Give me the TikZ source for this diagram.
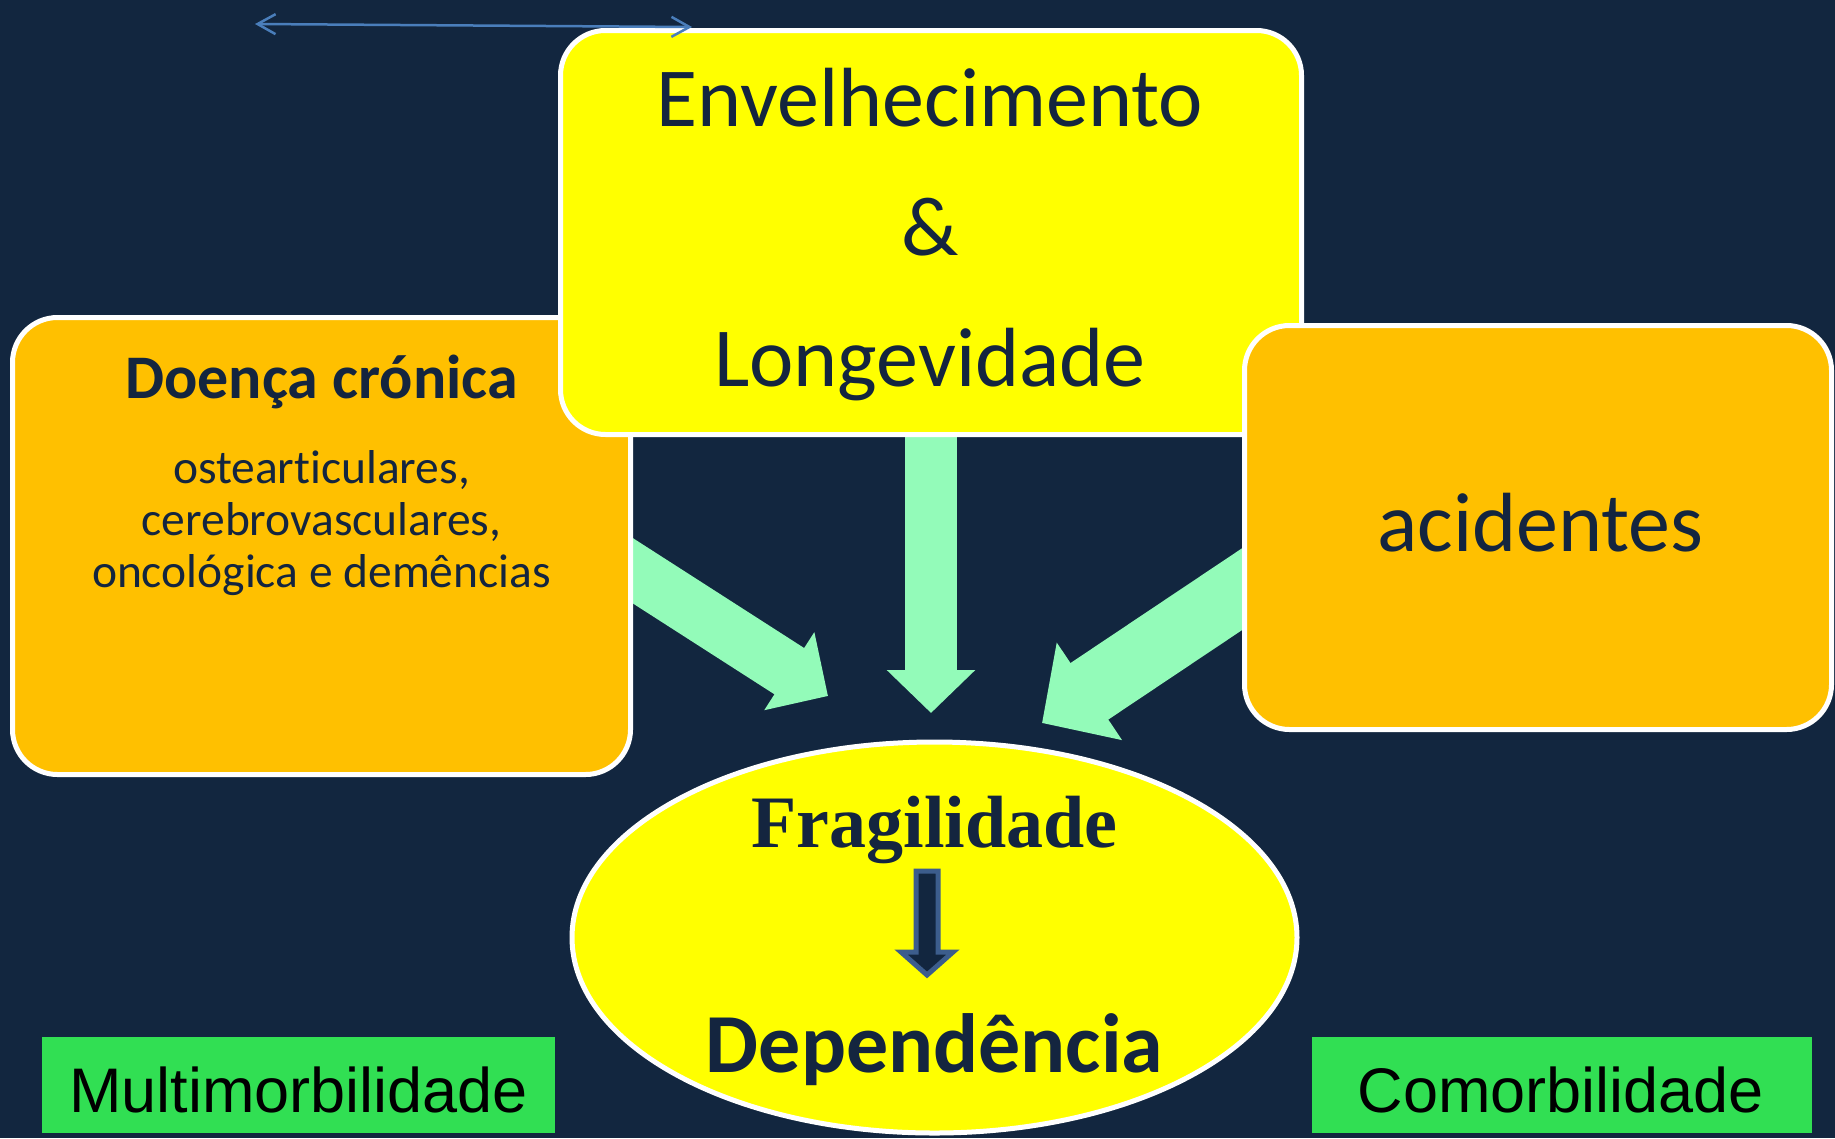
\documentclass[tikz,border=0pt]{standalone}
\usepackage{fontspec}
\setmainfont[Ligatures=NoCommon]{Carlito}
\newfontfamily\serifa{Liberation Serif}
\newfontfamily\arialf{Liberation Sans}
\usetikzlibrary{arrows.meta,shapes.geometric}
\definecolor{fundo}{HTML}{12263F}
\definecolor{tinta}{HTML}{14253F}
\definecolor{laranja}{HTML}{FFC000}
\definecolor{amarelo}{HTML}{FFFF00}
\definecolor{menta}{HTML}{93FBB9}
\definecolor{relva}{HTML}{31DF53}
\definecolor{azulseta}{HTML}{4A7EBB}
\definecolor{bordaseta}{HTML}{3C5D8C}
\pgfdeclarelayer{background}
\pgfsetlayers{background,main}
\tikzstyle{caixa} = [rectangle, rounded corners=45pt, draw=white, line width=5pt, inner sep=0pt]
\tikzstyle{texto} = [anchor=base, inner sep=0pt, text=tinta]
\tikzstyle{etiqueta} = [rectangle, fill=relva, inner sep=0pt, minimum height=96pt]
\tikzstyle{seta} = [draw=menta, line width=55pt, -{Triangle[length=46pt,width=90pt]}]
\tikzstyle{grande} = [font=\fontsize{84}{84}\selectfont]

\begin{document}
\begin{tikzpicture}[x=1pt, y=-1pt]
\useasboundingbox (0,0) rectangle (1835,1138);
% caixas
\node[caixa, fill=laranja, minimum width=618pt, minimum height=457pt] (doenca) at (321.5,546) {};
\node[caixa, fill=amarelo, minimum width=741pt, minimum height=404pt] (envelhec) at (931,232.5) {};
\node[caixa, fill=laranja, minimum width=587pt, minimum height=404pt] (acidentes) at (1538,527.5) {};
\node[ellipse, draw=white, line width=5pt, fill=amarelo, minimum width=725pt, minimum height=391pt] (fragil) at (934.5,937.5) {};
\node[etiqueta, minimum width=513pt] (multi) at (298.5,1085) {};
\node[etiqueta, minimum width=500pt] (comorb) at (1562,1085) {};

% textos
\node[texto, grande] (envtxt) at (930,126) {Envelhecimento};
\node[texto, grande] (etxt) at (930,255) {\&};
\node[texto, grande] (longtxt) at (930,386) {Longevidade};
\node[texto, font=\bfseries\fontsize{62}{62}\selectfont] (doencatxt) at (321.5,398) {Doença crónica};
\node[texto, font=\fontsize{47.5}{47.5}\selectfont] (linha1) at (321.5,483) {ostearticulares,};
\node[texto, font=\fontsize{47.5}{47.5}\selectfont] (linha2) at (321.5,535) {cerebrovasculares,};
\node[texto, font=\fontsize{47.5}{47.5}\selectfont] (linha3) at (321.5,587) {oncológica e demências};
\node[texto, grande] (acidtxt) at (1540.5,551) {acidentes};
\node[texto, font=\serifa\bfseries\fontsize{74}{74}\selectfont] (fragtxt) at (934.5,847) {Fragilidade};
\node[texto, font=\bfseries\fontsize{84}{84}\selectfont] (deptxt) at (934.5,1072) {Dependência};
\node[texto, text=black, font=\arialf\fontsize{63}{63}\selectfont] (multitxt) at (298.5,1112) {Multimorbilidade};
\node[texto, text=black, font=\arialf\fontsize{63}{63}\selectfont] (comorbtxt) at (1561,1112) {Comorbilidade};

% seta escura dentro da elipse
\draw[draw=bordaseta, fill=fundo, line width=5pt] (916,871) -- (938,871) -- (938,952) -- (953,952)
  -- (927,975) -- (901,952) -- (916,952) -- cycle;

% seta fina no topo
\coordinate (extE) at (255,24);
\coordinate (extD) at (692,27);
\draw[azulseta, line width=2.5pt, {Straight Barb[length=18pt,width=20pt]}-{Straight Barb[length=18pt,width=20pt]}] (extE) -- (extD);

\begin{pgfonlayer}{background}
\fill[fundo] (0,0) rectangle (1835,1138);
\coordinate (caudaE) at (560,524);
\coordinate (pontaE) at (828,696);
\coordinate (pontaC) at (932,713);
\coordinate (caudaD) at (1300,550.4);
\coordinate (pontaD) at (1042,723);
\draw[seta] (caudaE) -- (pontaE);
\draw[seta, line width=52pt, -{Triangle[length=43pt,width=86pt]}] (envelhec.south) -- (envelhec.south |- pontaC);
\draw[seta, line width=68pt, -{Triangle[length=57pt,width=114pt]}] (caudaD) -- (pontaD);
\end{pgfonlayer}
\end{tikzpicture}
\end{document}
